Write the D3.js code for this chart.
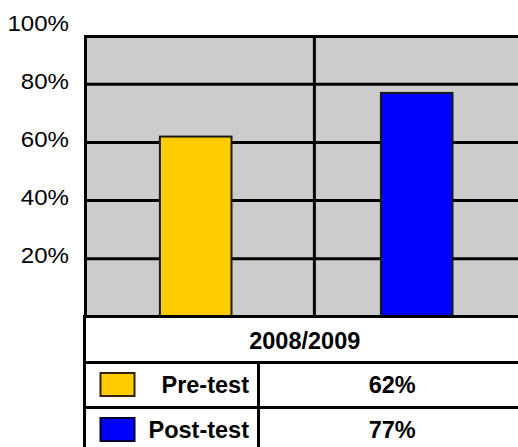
<!DOCTYPE html>
<html>
<head>
<meta charset="utf-8">
<script src="https://cdn.jsdelivr.net/npm/d3@7"></script>
<style>
  html, body { margin: 0; padding: 0; background: #fff; }
  svg { display: block; }
  text { font-family: "Liberation Sans", Arial, sans-serif; }
</style>
</head>
<body>
<svg id="chart" width="518" height="447"></svg>
<script>
// ---- data ----
const categories = ["2008/2009"];
const series = ["Pre-test", "Post-test"];
const values = [0.62, 0.77];
const seriesColors = ["#FFCC00", "#0000FF"];
const keyStrokes = ["#332200", "#000033"];
const yTicks = [0.2, 0.4, 0.6, 0.8, 1.0];

// ---- layout ----
const plotLeft = 85.5, plotRight = 524, plotTop = 36.5;
const svg = d3.select("#chart");

const y = d3.scaleLinear().domain([0, 1]).range([317, 26]);
const plotBottom = y(0) - 0.5;

const xCat = d3.scaleBand().domain(categories).range([plotLeft, plotRight]);
const xSer = d3.scaleBand().domain(series)
  .range([plotLeft, plotRight]).paddingInner(0.676).paddingOuter(0.33).align(0.51);

const fmt = d3.format(".0%");

// plot background
svg.append("rect")
  .attr("x", plotLeft).attr("y", plotTop)
  .attr("width", plotRight - plotLeft).attr("height", plotBottom - plotTop)
  .attr("fill", "#CCCCCC");

// horizontal gridlines
svg.append("g").selectAll("line")
  .data(yTicks.filter(t => y(t) > plotTop + 2))
  .join("line")
  .attr("x1", plotLeft).attr("x2", plotRight)
  .attr("y1", d => y(d)).attr("y2", d => y(d))
  .attr("stroke", "#000").attr("stroke-width", 3);

// vertical gridline
const vx = plotLeft + (plotRight - plotLeft) * 0.522;
svg.append("line")
  .attr("x1", vx).attr("x2", vx).attr("y1", plotTop).attr("y2", plotBottom)
  .attr("stroke", "#000").attr("stroke-width", 3);

// bars
svg.append("g").selectAll("rect")
  .data(series.map((s, i) => ({ s, v: values[i], c: seriesColors[i] })))
  .join("rect")
  .attr("x", d => xSer(d.s))
  .attr("width", xSer.bandwidth())
  .attr("y", d => y(d.v))
  .attr("height", d => plotBottom - y(d.v))
  .attr("fill", d => d.c)
  .attr("stroke", "#1a1a1a").attr("stroke-width", 2);

// plot border (top + left)
svg.append("path")
  .attr("d", `M${plotLeft},${plotBottom}V${plotTop}H${plotRight}`)
  .attr("fill", "none").attr("stroke", "#000").attr("stroke-width", 3);

// y axis labels
svg.append("g").selectAll("text")
  .data(yTicks)
  .join("text")
  .attr("transform", d => `translate(69,${y(d) - 3}) scale(1.12,1)`)
  .attr("text-anchor", "end")
  .attr("dominant-baseline", "central")
  .attr("font-size", 21.5)
  .attr("fill", "#000")
  .text(d => fmt(d));

// ---- data table ----
const tLeft = 84.5, tRight = plotRight + 2;
const rowH = 45;
const r0 = plotBottom;
const r1 = r0 + rowH + 1;
const r2 = r1 + rowH;
const r3 = r2 + rowH;
const divX = 258.5;

const tg = svg.append("g");
tg.append("rect").attr("x", tLeft).attr("y", r0).attr("width", tRight - tLeft).attr("height", r3 - r0).attr("fill", "#fff");
[r0, r1, r2].forEach(yy => {
  tg.append("line").attr("x1", tLeft - 1.5).attr("x2", tRight).attr("y1", yy).attr("y2", yy)
    .attr("stroke", "#000").attr("stroke-width", 3);
});
tg.append("line").attr("x1", tLeft).attr("x2", tLeft).attr("y1", r0).attr("y2", r3)
  .attr("stroke", "#000").attr("stroke-width", 3);
tg.append("line").attr("x1", divX).attr("x2", divX).attr("y1", r1).attr("y2", r3)
  .attr("stroke", "#000").attr("stroke-width", 3);

// header (category)
tg.append("text")
  .attr("x", xCat(categories[0]) + xCat.bandwidth() / 2).attr("y", (r0 + r1) / 2 + 1)
  .attr("text-anchor", "middle").attr("dominant-baseline", "central")
  .attr("font-size", 23.5).attr("font-weight", "bold").attr("fill", "#000")
  .text(categories[0]);

// rows
series.forEach((s, i) => {
  const top = i === 0 ? r1 : r2;
  const cy = top + rowH / 2;
  tg.append("rect")
    .attr("x", 100.5).attr("y", cy - 12).attr("width", 34).attr("height", 23)
    .attr("fill", seriesColors[i]).attr("stroke", keyStrokes[i]).attr("stroke-width", 2);
  tg.append("text")
    .attr("x", 249).attr("y", cy)
    .attr("text-anchor", "end").attr("dominant-baseline", "central")
    .attr("font-size", 23.5).attr("font-weight", "bold").attr("fill", "#000")
    .text(s);
  tg.append("text")
    .attr("x", (divX + tRight) / 2).attr("y", cy)
    .attr("text-anchor", "middle").attr("dominant-baseline", "central")
    .attr("font-size", 23.5).attr("font-weight", "bold").attr("fill", "#000")
    .text(fmt(values[i]));
});
</script>
</body>
</html>
